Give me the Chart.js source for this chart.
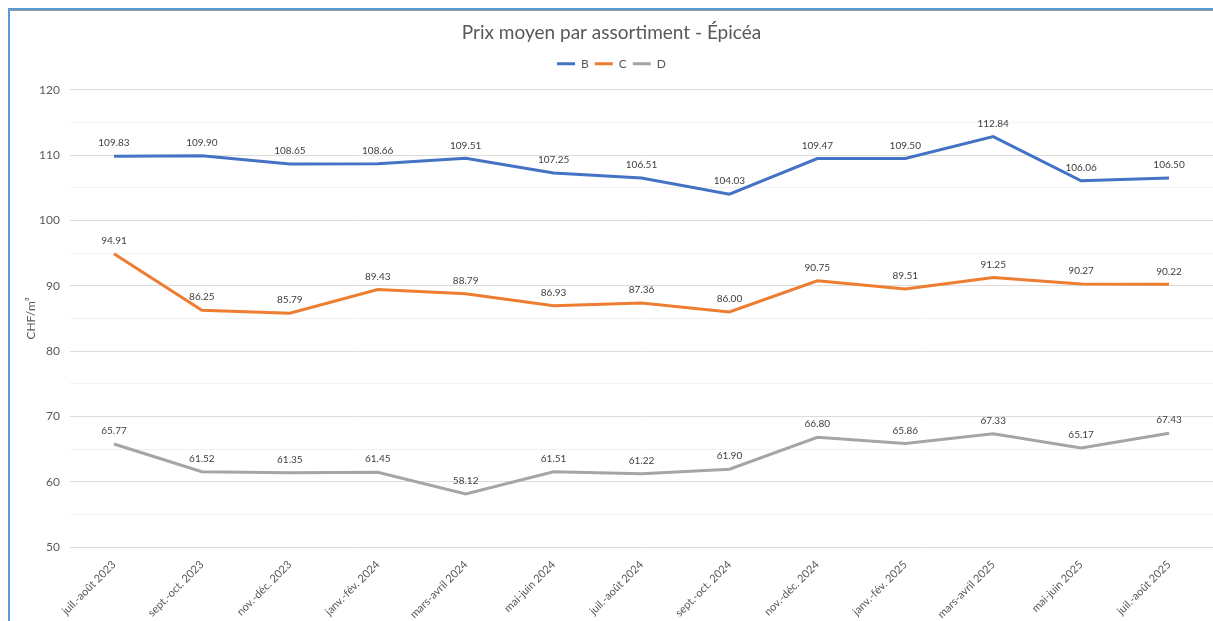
<!DOCTYPE html>
<html>
<head>
<meta charset="utf-8">
<script src="https://cdn.jsdelivr.net/npm/chart.js@4.4.1/dist/chart.umd.min.js"></script>
<style>
  html, body { margin: 0; padding: 0; background: #fff; overflow: hidden; }
  #frame {
    position: absolute; left: 8px; top: 8px; width: 1205px; height: 613px;
    border-top: 2px solid #5b9bd5; border-left: 2px solid #5b9bd5;
  }
  #inner { width: 1203px; height: 610px; border-top: 1px solid #9a9a9a; background: #fff; }
</style>
</head>
<body>
<div id="frame"><div id="inner"><canvas id="myChart" width="1203" height="610"></canvas></div></div>
<script>
// Periods (categories)
const periods = ['juil.-août 2023', 'sept.-oct. 2023', 'nov.-déc. 2023', 'janv.-fév. 2024', 'mars-avril 2024',
  'mai-juin 2024', 'juil.-août 2024', 'sept.-oct. 2024', 'nov.-déc. 2024', 'janv.-fév. 2025',
  'mars-avril 2025', 'mai-juin 2025', 'juil.-août 2025'];

// Prix moyens CHF/m3
const valuesB = [109.83, 109.90, 108.65, 108.66, 109.51, 107.25, 106.51, 104.03, 109.47, 109.50, 112.84, 106.06, 106.50];
const valuesC = [94.91, 86.25, 85.79, 89.43, 88.79, 86.93, 87.36, 86.00, 90.75, 89.51, 91.25, 90.27, 90.22];
const valuesD = [65.77, 61.52, 61.35, 61.45, 58.12, 61.51, 61.22, 61.90, 66.80, 65.86, 67.33, 65.17, 67.43];

const yMin = 50;
const yMax = 120;

const FONT = 'Lato, "Open Sans", sans-serif';

// simple value labels above each point
const pointLabels = {
  id: 'pointLabels',
  afterDatasetsDraw(chart) {
    const ctx = chart.ctx;
    ctx.save();
    ctx.font = '10px ' + FONT;
    ctx.fillStyle = '#404040';
    ctx.textAlign = 'center';
    ctx.textBaseline = 'middle';
    chart.data.datasets.forEach((ds, i) => {
      chart.getDatasetMeta(i).data.forEach((pt, j) => {
        ctx.fillText(ds.data[j].toFixed(2), pt.x, pt.y - 13);
      });
    });
    ctx.restore();
  }
};

// extra gap under the legend
const legendGap = {
  id: 'legendGap',
  beforeInit(chart) {
    const fit = chart.legend.fit;
    chart.legend.fit = function () {
      fit.bind(chart.legend)();
      this.height += 10;
    };
  }
};

function series(label, data, color) {
  return {
    label: label,
    data: data,
    borderColor: color,
    backgroundColor: color,
    borderWidth: 3,
    pointRadius: 0,
    pointHoverRadius: 0,
    tension: 0,
    fill: false
  };
}

const ctx = document.getElementById('myChart').getContext('2d');
const myChart = new Chart(ctx, {
  type: 'line',
  data: {
    labels: periods,
    datasets: [
      series('B', valuesB, '#4472c4'),
      series('C', valuesC, '#ed7d31'),
      series('D', valuesD, '#a5a5a5')
    ]
  },
  plugins: [pointLabels, legendGap],
  options: {
    responsive: false,
    animation: false,
    layout: { padding: { top: 0, right: 0, bottom: 0, left: 0 } },
    plugins: {
      title: {
        display: true,
        text: 'Prix moyen par assortiment - Épicéa',
        color: '#595959',
        font: { family: FONT, size: 19, weight: 'normal' },
        padding: { top: 10, bottom: 8 }
      },
      legend: {
        display: true,
        labels: {
          usePointStyle: true,
          pointStyle: 'line',
          pointStyleWidth: 18,
          boxHeight: 12,
          color: '#595959',
          font: { family: FONT, size: 12 },
          padding: 6
        }
      },
      tooltip: { enabled: false }
    },
    scales: {
      x: {
        offset: true,
        grid: { display: false },
        border: { display: false },
        ticks: {
          color: '#595959',
          font: { family: FONT, size: 11 },
          minRotation: 45,
          maxRotation: 45,
          autoSkip: false
        },
        afterFit(scale) { scale.height = 74; }
      },
      y: {
        min: yMin,
        max: yMax,
        border: { display: false },
        ticks: {
          stepSize: 5,
          color: '#595959',
          font: { family: FONT, size: 12 },
          padding: 10,
          callback: (v) => (v % 10 === 0 ? v : '')
        },
        grid: {
          drawTicks: false,
          color: (c) => (c.tick && c.tick.value % 10 === 0 ? '#dcdcdc' : '#f1f1f1'),
          lineWidth: 1
        },
        title: {
          display: true,
          text: 'CHF/m³',
          color: '#595959',
          font: { family: FONT, size: 12 },
          padding: { top: 14, bottom: 0 }
        },
        afterFit(scale) { scale.width = 60; }
      }
    }
  }
});
</script>
</body>
</html>
